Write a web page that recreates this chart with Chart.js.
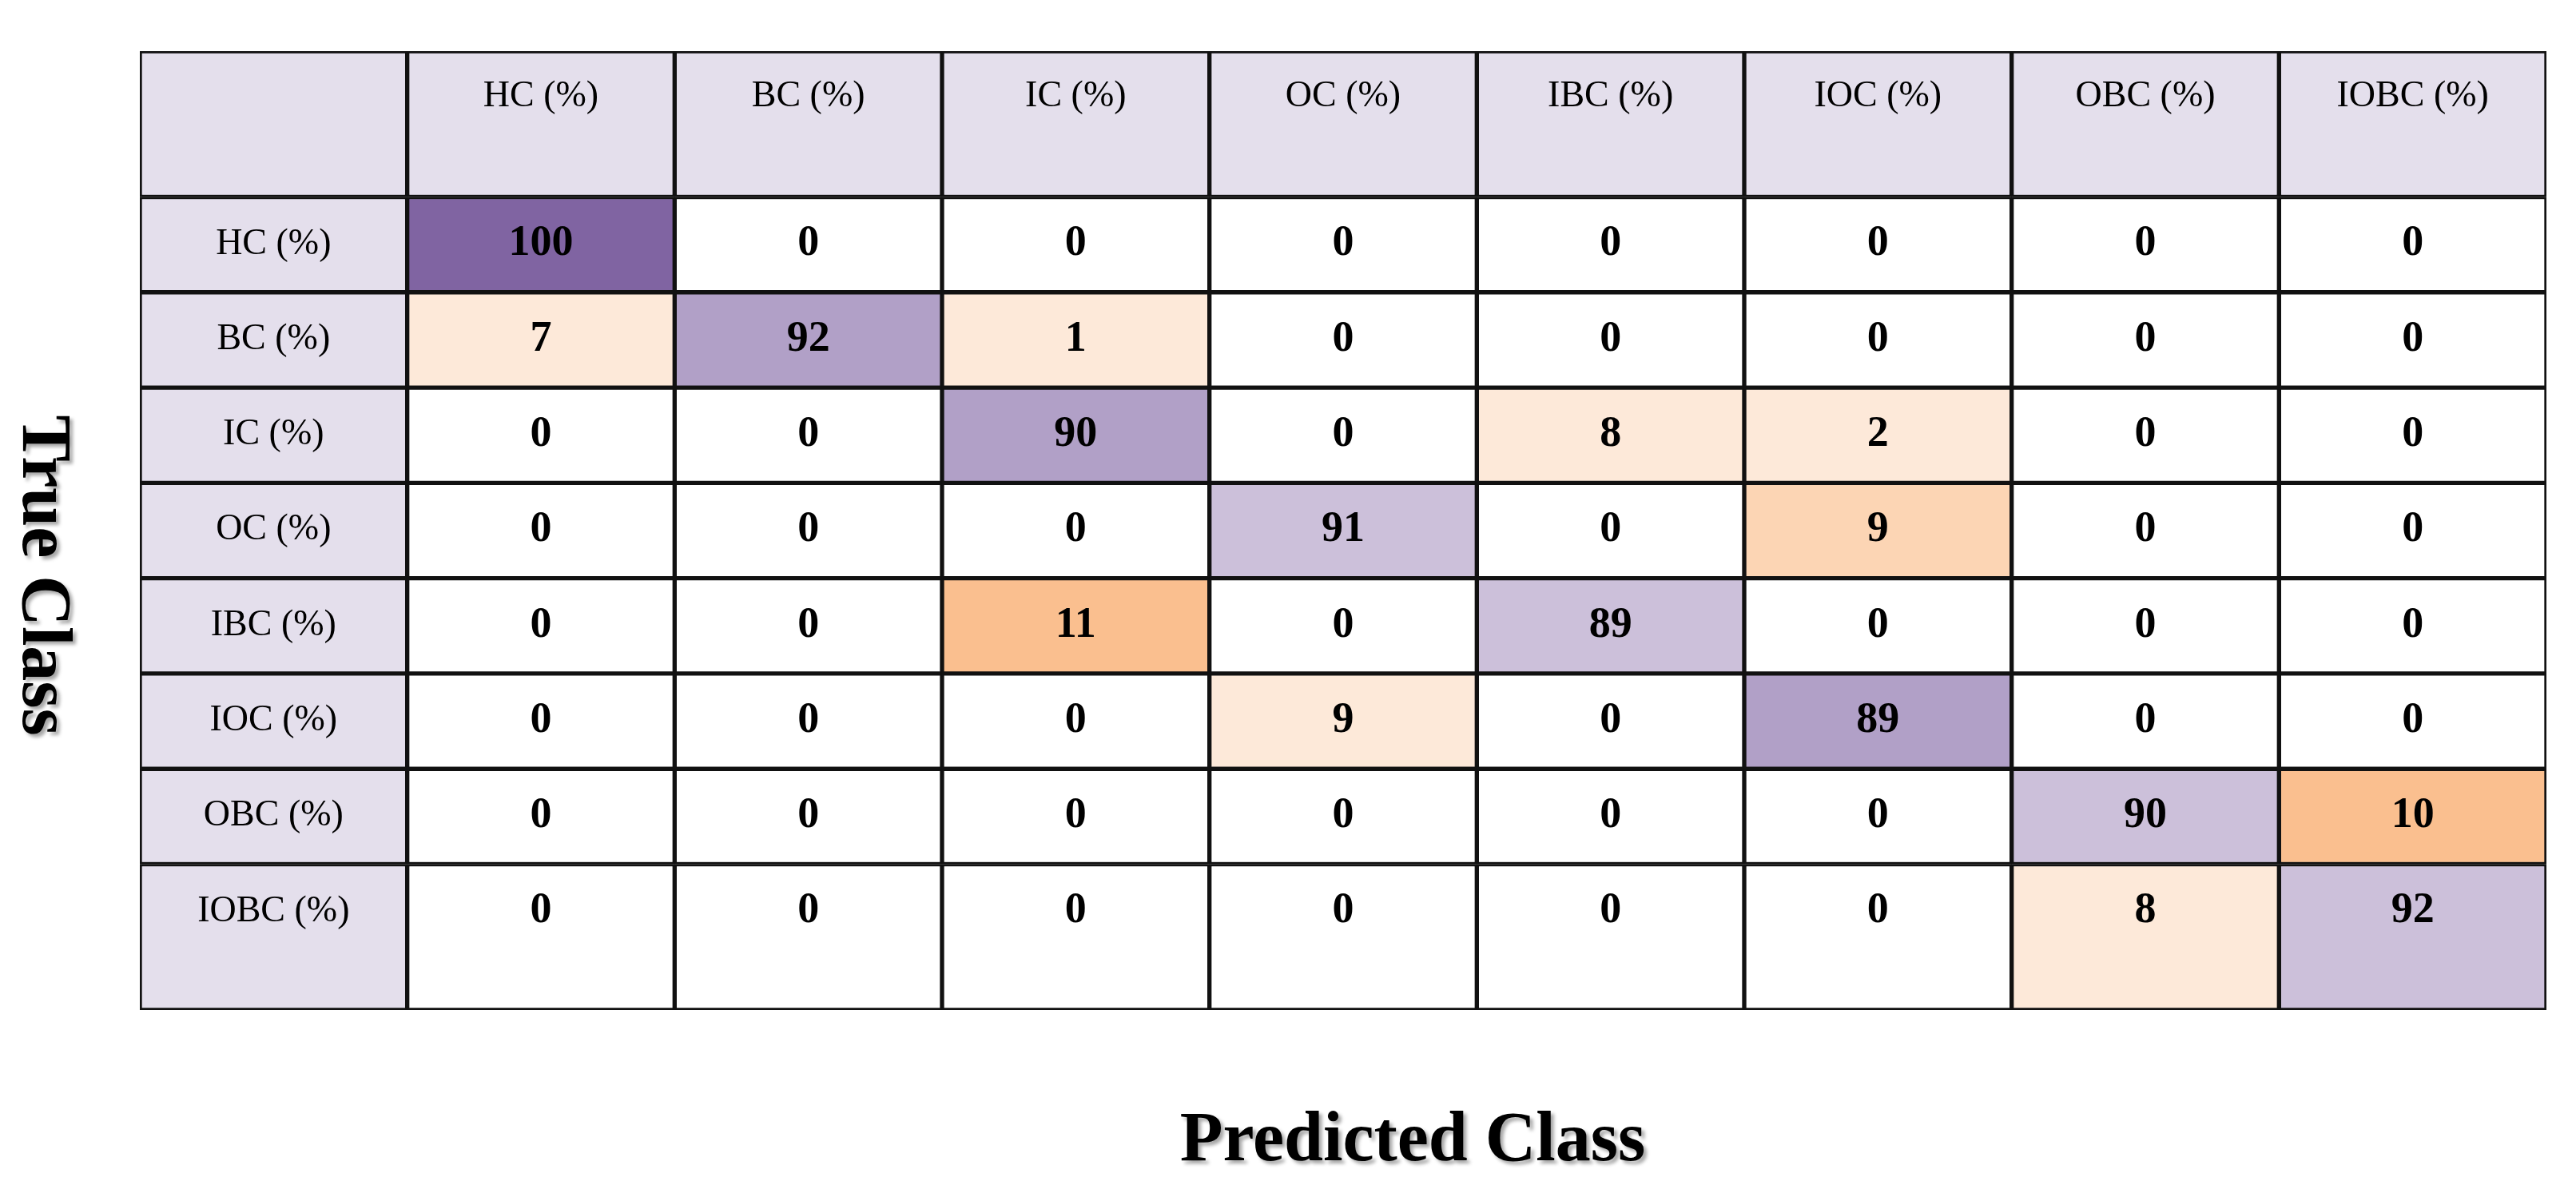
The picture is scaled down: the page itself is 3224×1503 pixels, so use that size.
<!DOCTYPE html>
<html>
<head>
<meta charset="utf-8">
<script src="https://cdn.jsdelivr.net/npm/chart.js@4.4.1/dist/chart.umd.min.js"></script>
<style>
  html, body { margin: 0; padding: 0; background: #fff; }
  #wrap { width: 3224px; height: 1503px; }
</style>
</head>
<body>
<div id="wrap"><canvas id="cm"></canvas></div>
<script>
// Confusion matrix data
const classes = ['HC (%)', 'BC (%)', 'IC (%)', 'OC (%)', 'IBC (%)', 'IOC (%)', 'OBC (%)', 'IOBC (%)'];
const matrix = [
    [100, 0, 0, 0, 0, 0, 0, 0],
    [7, 92, 1, 0, 0, 0, 0, 0],
    [0, 0, 90, 0, 8, 2, 0, 0],
    [0, 0, 0, 91, 0, 9, 0, 0],
    [0, 0, 11, 0, 89, 0, 0, 0],
    [0, 0, 0, 9, 0, 89, 0, 0],
    [0, 0, 0, 0, 0, 0, 90, 10],
    [0, 0, 0, 0, 0, 0, 8, 92]
];
// row heights in units (header row and last row are taller)
const rowHeights = [1.53, 1, 1, 1, 1, 1, 1, 1, 1.53];
// cell colours as they appear in the picture
const cellColors = [
    ['#8064a2', '#fff', '#fff', '#fff', '#fff', '#fff', '#fff', '#fff'],
    ['#fde9d9', '#b1a0c7', '#fde9d9', '#fff', '#fff', '#fff', '#fff', '#fff'],
    ['#fff', '#fff', '#b1a0c7', '#fff', '#fde9d9', '#fde9d9', '#fff', '#fff'],
    ['#fff', '#fff', '#fff', '#ccc0da', '#fff', '#fcd5b4', '#fff', '#fff'],
    ['#fff', '#fff', '#fabf8f', '#fff', '#ccc0da', '#fff', '#fff', '#fff'],
    ['#fff', '#fff', '#fff', '#fde9d9', '#fff', '#b1a0c7', '#fff', '#fff'],
    ['#fff', '#fff', '#fff', '#fff', '#fff', '#fff', '#ccc0da', '#fabf8f'],
    ['#fff', '#fff', '#fff', '#fff', '#fff', '#fff', '#fde9d9', '#ccc0da']
];
const headerColor = '#e4dfec';

// row edges
const edges = [0];
rowHeights.forEach(h => edges.push(edges[edges.length - 1] + h));
const total = edges[edges.length - 1];

const colLabels = [''].concat(classes);
const datasets = [];
for (let r = 0; r < 9; r++) {
    const colors = [];
    const texts = [];
    for (let c = 0; c < 9; c++) {
        if (r === 0) {
            colors.push(headerColor);
            texts.push(c === 0 ? '' : classes[c - 1]);
        } else if (c === 0) {
            colors.push(headerColor);
            texts.push(classes[r - 1]);
        } else {
            colors.push(cellColors[r - 1][c - 1]);
            texts.push(String(matrix[r - 1][c - 1]));
        }
    }
    datasets.push({
        data: colLabels.map(() => [edges[r], edges[r + 1]]),
        backgroundColor: colors,
        borderColor: '#111',
        borderWidth: 3,
        borderSkipped: false,
        texts: texts,
        bold: r > 0
    });
}

const cellText = {
    id: 'cellText',
    afterDatasetsDraw(chart) {
        const ctx = chart.ctx;
        ctx.save();
        ctx.fillStyle = '#000';
        ctx.textAlign = 'center';
        ctx.textBaseline = 'middle';
        chart.data.datasets.forEach((ds, r) => {
            chart.getDatasetMeta(r).data.forEach((bar, c) => {
                const isLabel = r === 0 || c === 0;
                ctx.font = isLabel ? '46px "Liberation Serif"' : 'bold 54px "Liberation Serif"';
                const top = Math.min(bar.y, bar.base);
                ctx.fillText(ds.texts[c], bar.x, top + (r === 0 ? 57 : 59));
            });
        });
        // axis titles
        ctx.font = 'bold 88px "Liberation Serif"';
        ctx.shadowColor = 'rgba(0,0,0,0.35)';
        ctx.shadowOffsetX = 4;
        ctx.shadowOffsetY = 4;
        ctx.shadowBlur = 4;
        ctx.fillText('Predicted Class', 1768, 1429);
        ctx.translate(52, 720);
        ctx.rotate(Math.PI / 2);
        ctx.fillText('True Class', 0, 0);
        ctx.restore();
    }
};

new Chart(document.getElementById('cm'), {
    type: 'bar',
    data: { labels: colLabels, datasets: datasets },
    options: {
        responsive: true,
        maintainAspectRatio: false,
        animation: false,
        layout: { padding: { left: 175, right: 37, top: 64, bottom: 239 } },
        datasets: { bar: { barPercentage: 1, categoryPercentage: 1, grouped: false } },
        scales: {
            x: { display: false, offset: true },
            y: { display: false, min: 0, max: total, reverse: true }
        },
        plugins: { legend: { display: false }, tooltip: { enabled: false } }
    },
    plugins: [cellText]
});
</script>
</body>
</html>
